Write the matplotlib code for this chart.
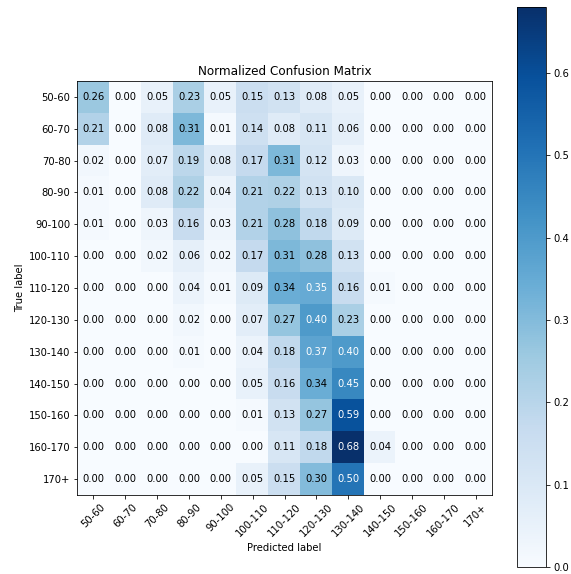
import numpy as np
import matplotlib
matplotlib.use('Agg')
import matplotlib.pyplot as plt

# class labels (same for true and predicted)
classes = ['50-60', '60-70', '70-80', '80-90', '90-100', '100-110', '110-120',
           '120-130', '130-140', '140-150', '150-160', '160-170', '170+']

# normalized confusion matrix, one row per true label
row_50_60 = [0.26, 0.00, 0.05, 0.23, 0.05, 0.15, 0.13, 0.08, 0.05, 0.00, 0.00, 0.00, 0.00]
row_60_70 = [0.21, 0.00, 0.08, 0.31, 0.01, 0.14, 0.08, 0.11, 0.06, 0.00, 0.00, 0.00, 0.00]
row_70_80 = [0.02, 0.00, 0.07, 0.19, 0.08, 0.17, 0.31, 0.12, 0.03, 0.00, 0.00, 0.00, 0.00]
row_80_90 = [0.01, 0.00, 0.08, 0.22, 0.04, 0.21, 0.22, 0.13, 0.10, 0.00, 0.00, 0.00, 0.00]
row_90_100 = [0.01, 0.00, 0.03, 0.16, 0.03, 0.21, 0.28, 0.18, 0.09, 0.00, 0.00, 0.00, 0.00]
row_100_110 = [0.00, 0.00, 0.02, 0.06, 0.02, 0.17, 0.31, 0.28, 0.13, 0.00, 0.00, 0.00, 0.00]
row_110_120 = [0.00, 0.00, 0.00, 0.04, 0.01, 0.09, 0.34, 0.35, 0.16, 0.01, 0.00, 0.00, 0.00]
row_120_130 = [0.00, 0.00, 0.00, 0.02, 0.00, 0.07, 0.27, 0.40, 0.23, 0.00, 0.00, 0.00, 0.00]
row_130_140 = [0.00, 0.00, 0.00, 0.01, 0.00, 0.04, 0.18, 0.37, 0.40, 0.00, 0.00, 0.00, 0.00]
row_140_150 = [0.00, 0.00, 0.00, 0.00, 0.00, 0.05, 0.16, 0.34, 0.45, 0.00, 0.00, 0.00, 0.00]
row_150_160 = [0.00, 0.00, 0.00, 0.00, 0.00, 0.01, 0.13, 0.27, 0.59, 0.00, 0.00, 0.00, 0.00]
row_160_170 = [0.00, 0.00, 0.00, 0.00, 0.00, 0.00, 0.11, 0.18, 0.68, 0.04, 0.00, 0.00, 0.00]
row_170_plus = [0.00, 0.00, 0.00, 0.00, 0.00, 0.05, 0.15, 0.30, 0.50, 0.00, 0.00, 0.00, 0.00]

cm = np.array([row_50_60, row_60_70, row_70_80, row_80_90, row_90_100,
               row_100_110, row_110_120, row_120_130, row_130_140,
               row_140_150, row_150_160, row_160_170, row_170_plus])

W, H, DPI = 571, 574, 72
fig = plt.figure(figsize=(W / DPI, H / DPI), dpi=DPI)

# main matrix axes and colorbar axes (pixel boxes converted to fractions)
ax = fig.add_axes([77 / W, (H - 495) / H, 415 / W, 414 / H])
cax = fig.add_axes([517 / W, (H - 567) / H, 29 / W, 560 / H])

im = ax.imshow(cm, interpolation='nearest', cmap=plt.cm.Blues)
ax.set_title('Normalized Confusion Matrix', fontsize=12)
cb = fig.colorbar(im, cax=cax)
cb.ax.tick_params(labelsize=10)

ticks = np.arange(len(classes))
ax.set_xticks(ticks)
ax.set_xticklabels(classes, rotation=45, fontsize=10)
ax.set_yticks(ticks)
ax.set_yticklabels(classes, fontsize=10)

thresh = cm.max() / 2.
for i in range(cm.shape[0]):
    for j in range(cm.shape[1]):
        ax.text(j, i, format(cm[i, j], '.2f'), ha='center', va='center',
                fontsize=10, color='white' if cm[i, j] > thresh else 'black')

ax.set_ylabel('True label', fontsize=10)
ax.set_xlabel('Predicted label', fontsize=10)

plt.savefig('out.png', dpi=DPI)
plt.close()
